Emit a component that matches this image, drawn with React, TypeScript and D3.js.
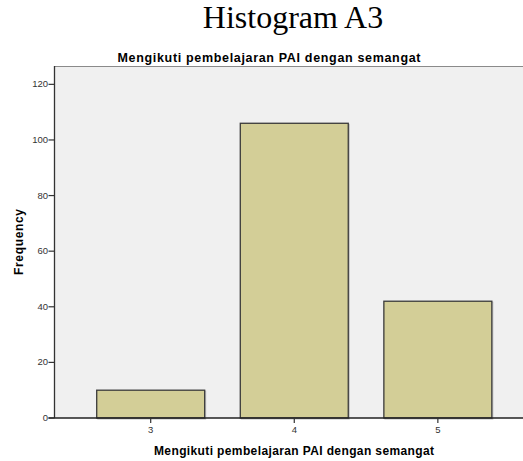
import React from "react";
import * as d3 from "d3";

const categories = [3, 4, 5];
const frequencies = [10, 106, 42];
const yTicks = [0, 20, 40, 60, 80, 100, 120];

const W = 523;
const H = 461;

export default function App() {
  const left = 54.5;
  const top = 66;
  const bottom = 418;
  const right = 530;
  const x = d3.scaleLinear().domain([2.33, 5.6]).range([left, 524]);
  const y = d3.scaleLinear().domain([0, 126.6]).range([bottom, top]);
  const barW = 0.752;

  return (
    <svg
      width={W}
      height={H}
      style={{ position: "absolute", left: 0, top: 0, background: "#fff" }}
    >
      <text
        x={293}
        y={28}
        textAnchor="middle"
        fontFamily="'Liberation Serif', 'Times New Roman', serif"
        fontSize={32}
        fill="#000"
      >
        Histogram A3
      </text>
      <text
        x={269}
        y={62}
        textAnchor="middle"
        fontFamily="'Liberation Sans', Arial, sans-serif"
        fontWeight="bold"
        fontSize={12.5}
        textLength={303}
        lengthAdjust="spacing"
        fill="#000"
      >
        Mengikuti pembelajaran PAI dengan semangat
      </text>
      <rect x={left} y={top} width={right - left} height={bottom - top} fill="#f0f0f0" />
      <line x1={left} x2={right} y1={top + 0.5} y2={top + 0.5} stroke="#8a8a8a" strokeWidth={1} />
      {categories.map((c, i) => {
        const x0 = x(c - barW / 2);
        const x1 = x(c + barW / 2);
        const yv = y(frequencies[i]);
        return (
          <g key={c}>
            <rect
              x={x0 + 1}
              y={yv + 1}
              width={x1 - x0}
              height={bottom - yv}
              fill="none"
              stroke="#bdbdbd"
              strokeWidth={1}
            />
            <rect
              x={x0}
              y={yv}
              width={x1 - x0}
              height={bottom - yv}
              fill="#d3ce97"
              stroke="#3a3a3a"
              strokeWidth={1.3}
            />
          </g>
        );
      })}
      <line x1={left} x2={left} y1={top} y2={bottom} stroke="#333" strokeWidth={1.3} />
      <line x1={left - 6} x2={right} y1={bottom} y2={bottom} stroke="#222" strokeWidth={1.5} />
      {yTicks.map((t) => (
        <g key={t}>
          <line x1={left - 6} x2={left} y1={y(t)} y2={y(t)} stroke="#333" strokeWidth={1.2} />
          <text
            x={left - 6.5}
            y={y(t) + 3}
            textAnchor="end"
            fontFamily="'Liberation Sans', Arial, sans-serif"
            fontSize={9.5}
            fill="#333"
          >
            {t}
          </text>
        </g>
      ))}
      {categories.map((c) => (
        <g key={"xt" + c}>
          <line x1={x(c)} x2={x(c)} y1={bottom} y2={bottom + 5} stroke="#333" strokeWidth={1.2} />
          <text
            x={x(c)}
            y={433}
            textAnchor="middle"
            fontFamily="'Liberation Sans', Arial, sans-serif"
            fontSize={9.5}
            fill="#333"
          >
            {c}
          </text>
        </g>
      ))}
      <text
        x={294}
        y={455}
        textAnchor="middle"
        fontFamily="'Liberation Sans', Arial, sans-serif"
        fontWeight="bold"
        fontSize={12}
        textLength={280}
        lengthAdjust="spacing"
        fill="#000"
      >
        Mengikuti pembelajaran PAI dengan semangat
      </text>
      <text
        transform="translate(22.5,242) rotate(-90)"
        textAnchor="middle"
        fontFamily="'Liberation Sans', Arial, sans-serif"
        fontWeight="bold"
        fontSize={12}
        textLength={66}
        lengthAdjust="spacing"
        fill="#000"
      >
        Frequency
      </text>
    </svg>
  );
}
